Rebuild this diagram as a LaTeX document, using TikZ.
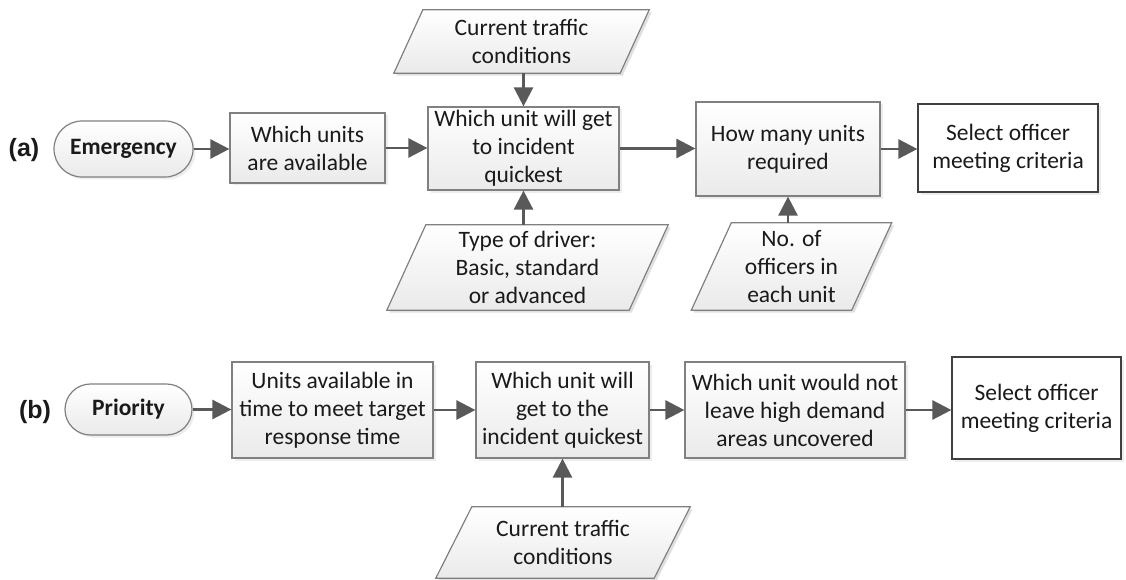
\documentclass[tikz,border=0pt]{standalone}
\usepackage{fontspec}
\setmainfont{Carlito}
\newfontfamily\tagfont{Liberation Sans}
\usetikzlibrary{arrows.meta,shapes.misc,shadows,backgrounds}

\definecolor{edge}{HTML}{808080}
\definecolor{dark}{HTML}{404040}
\definecolor{arrowc}{HTML}{595959}
\definecolor{ink}{HTML}{1A1A1A}
\definecolor{shade}{HTML}{EAEAEA}

\tikzset{
  x=1pt, y=1pt,
  txt/.style={font=\fontsize{23.5}{28}\selectfont, text=ink, align=center, inner sep=0pt},
  sz/.style 2 args={minimum width=#1pt, minimum height=#2pt},
  soft/.style={drop shadow={shadow xshift=2.5pt, shadow yshift=-2.5pt, fill=black!14}},
  box/.style={txt, rectangle, draw=edge, line width=1.2pt, top color=white, bottom color=shade, soft},
  finalbox/.style={txt, rectangle, draw=dark, line width=1.2pt, fill=white, soft},
  term/.style={txt, font=\fontsize{23.5}{28}\selectfont\bfseries, rounded rectangle, draw=edge, line width=1.2pt, top color=white, bottom color=shade, soft},
  tag/.style={font=\tagfont\bfseries\fontsize{25}{30}\selectfont, text=ink, inner sep=0pt},
  io/.style={txt, rectangle},
  flow/.style={draw=arrowc, line width=2.6pt, -{Triangle[length=19pt,width=19pt]}},
}

% parallelogram (data symbol) drawn round an io node: #1 node name, #2 slant
\newcommand\ioshape[2]{%
  \fill[black!12] ([shift={(#2/2+2.5,-2.5)}]#1.north west) -- ([shift={(#2/2+2.5,-2.5)}]#1.north east)
    -- ([shift={(-#2/2+2.5,-2.5)}]#1.south east) -- ([shift={(-#2/2+2.5,-2.5)}]#1.south west) -- cycle;
  \draw[draw=edge, line width=1.2pt, top color=white, bottom color=shade]
    ([xshift=#2/2]#1.north west) -- ([xshift=#2/2]#1.north east)
    -- ([xshift=-#2/2]#1.south east) -- ([xshift=-#2/2]#1.south west) -- cycle;
}

\begin{document}
\begin{tikzpicture}
\useasboundingbox (0,0) rectangle (1126,-580);

% ---- (a) emergency dispatch ----
\node[tag] (la) at (24,-150) {(a)};
\node[term, sz={139}{56}] (em) at (123.5,-149) {Emergency};
\node[box, sz={155}{70}] (wa) at (307.5,-148) {Which units\\are available};
\node[box, sz={191}{83}] (qa) at (523.5,-148.5) {Which unit will get\\to incident\\quickest};
\node[box, sz={184}{94}] (ha) at (788,-149) {How many units\\required};
\node[finalbox, sz={180}{88}] (sa) at (1008,-148) {Select officer\\meeting criteria};

\node[io, sz={226}{63}] (tca) at (521.5,-41.5) {Current traffic\\conditions};
\node[io, sz={242}{85}] (dr) at (527.5,-267.5) {Type of driver:\\Basic, standard\\or advanced};
\node[io, sz={160}{87}] (of) at (791.5,-266.5) {No. of\\officers in\\each unit};

% ---- (b) priority dispatch ----
\node[tag] (lb) at (35,-412) {(b)};
\node[term, sz={127}{51}] (pr) at (128.5,-409.5) {Priority};
\node[box, sz={201}{96}] (ub) at (332.5,-410) {Units available in\\time to meet target\\response time};
\node[box, sz={173}{96}] (qb) at (562.5,-410) {Which unit will\\get to the\\incident quickest};
\node[box, sz={220}{96}] (nb) at (795,-410) {Which unit would not\\leave high demand\\areas uncovered};
\node[finalbox, sz={169}{102}] (sb) at (1036.5,-408) {Select officer\\meeting criteria};

\node[io, sz={218}{71}] (tcb) at (563,-542.5) {Current traffic\\conditions};

\begin{scope}[on background layer]
  \ioshape{tca}{29}
  \ioshape{dr}{39}
  \ioshape{of}{40}
  \ioshape{tcb}{36}
\end{scope}

% ---- connectors ----
\draw[flow] (em.east) -- (em.east -| wa.west);
\draw[flow] (wa.east) -- (wa.east -| qa.west);
\draw[flow] (qa.east) -- (qa.east -| ha.west);
\draw[flow] (ha.east) -- (ha.east -| sa.west);
\draw[flow] (qa.north |- tca.south) -- (qa.north);
\draw[flow] (qa.south |- dr.north) -- (qa.south);
\draw[flow] (ha.south |- of.north) -- (ha.south);

\draw[flow] (pr.east) -- (pr.east -| ub.west);
\draw[flow] (ub.east) -- (ub.east -| qb.west);
\draw[flow] (qb.east) -- (qb.east -| nb.west);
\draw[flow] (nb.east) -- (nb.east -| sb.west);
\draw[flow] (qb.south |- tcb.north) -- (qb.south);
\end{tikzpicture}
\end{document}
